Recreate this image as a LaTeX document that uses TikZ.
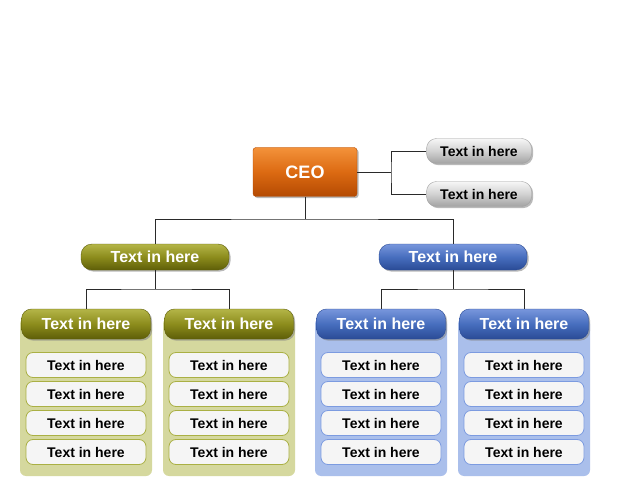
\documentclass[tikz,border=0pt]{standalone}
\usepackage{fontspec}
\setmainfont{Liberation Sans}
\usetikzlibrary{positioning,shadows}
\definecolor{CeoTop}{HTML}{F3923A}
\definecolor{CeoMid}{HTML}{DC6A12}
\definecolor{CeoBot}{HTML}{B44A02}
\definecolor{OliveTop}{HTML}{B4B548}
\definecolor{OliveMid}{HTML}{8C8C1C}
\definecolor{OliveBot}{HTML}{5E5E08}
\definecolor{OlivePanel}{HTML}{D5D89E}
\definecolor{OliveEdge}{HTML}{AAB044}
\definecolor{SkyTop}{HTML}{7896DC}
\definecolor{SkyMid}{HTML}{476EBE}
\definecolor{SkyBot}{HTML}{2A4B96}
\definecolor{SkyPanel}{HTML}{AABFEB}
\definecolor{SkyEdge}{HTML}{7C9BE0}
\definecolor{SilverTop}{HTML}{F6F6F6}
\definecolor{SilverMid}{HTML}{D2D2D2}
\definecolor{SilverBot}{HTML}{A2A2A2}
\definecolor{WireGrey}{HTML}{2A2A2A}

\tikzset{
  wire/.style={draw=WireGrey,line width=0.9pt},
  shade/.style={drop shadow={shadow xshift=1.6pt,shadow yshift=-1.6pt,opacity=.55}},
  bossbox/.style={shade,rounded corners=3pt,minimum width=104pt,minimum height=49pt,
    top color=CeoTop,bottom color=CeoBot,middle color=CeoMid,draw=CeoBot,
    text=white,font=\fontsize{18}{20}\selectfont\bfseries},
  aidepill/.style={shade,rounded corners=10pt,minimum width=105pt,minimum height=25pt,
    top color=SilverTop,bottom color=SilverBot,middle color=SilverMid,draw=SilverBot,
    font=\fontsize{14}{16}\selectfont\bfseries},
  headpill/.style={shade,rounded corners=11pt,minimum width=148pt,minimum height=26pt,
    text=white,font=\fontsize{16}{18}\selectfont\bfseries},
  tab/.style={shade,rounded corners=10pt,minimum width=129pt,minimum height=30pt,
    text=white,font=\fontsize{16}{18}\selectfont\bfseries},
  panel/.style={rounded corners=6pt,minimum width=132pt,minimum height=158pt},
  entry/.style={rounded corners=7pt,minimum width=120pt,minimum height=25pt,
    fill=white!96!black,line width=0.8pt,font=\fontsize{14}{16}\selectfont\bfseries},
  olive/.style={top color=OliveTop,bottom color=OliveBot,middle color=OliveMid,draw=OliveBot},
  sky/.style={top color=SkyTop,bottom color=SkyBot,middle color=SkyMid,draw=SkyBot}
}

\begin{document}
\begin{tikzpicture}[x=1pt,y=-1pt]
  \useasboundingbox[fill=white] (0,0) rectangle (635,484);

  % top of the chart
  \node[bossbox] (ceo) at (305,172) {CEO};
  \node[aidepill] (aideA) at (479,151) {Text in here};
  \node[aidepill] (aideB) at (479,194) {Text in here};
  \coordinate (hub) at (391,172);
  \draw[wire] (ceo.east) -- (hub);
  \draw[wire] (aideA.west) -| (hub) |- (aideB.west);

  % second level
  \node[headpill,olive] (leadA) at (155,257) {Text in here};
  \node[headpill,sky] (leadB) at (453,257) {Text in here};
  \coordinate (busTop) at (305,219);
  \draw[wire] (ceo.south) -- (busTop);
  \draw[wire] (leadA.north) |- (busTop) -| (leadB.north);

  % columns with their lists
  \foreach \c/\x/\tone/\fillc/\edge in {1/86/olive/OlivePanel/OliveEdge,2/229/olive/OlivePanel/OliveEdge,
                                        3/381/sky/SkyPanel/SkyEdge,4/524/sky/SkyPanel/SkyEdge}{
    \node[panel,fill=\fillc] (box\c) at (\x,397) {};
    \node[tab,\tone] (tab\c) at (\x,324) {Text in here};
    \foreach \r/\y in {1/365,2/394,3/423,4/452}
      \node[entry,draw=\edge] (item\c\r) at (\x,\y) {Text in here};
  }

  \coordinate (busA) at (155,289);
  \coordinate (busB) at (453,289);
  \draw[wire] (leadA.south) -- (busA);
  \draw[wire] (tab1.north) |- (busA) -| (tab2.north);
  \draw[wire] (leadB.south) -- (busB);
  \draw[wire] (tab3.north) |- (busB) -| (tab4.north);
\end{tikzpicture}
\end{document}
